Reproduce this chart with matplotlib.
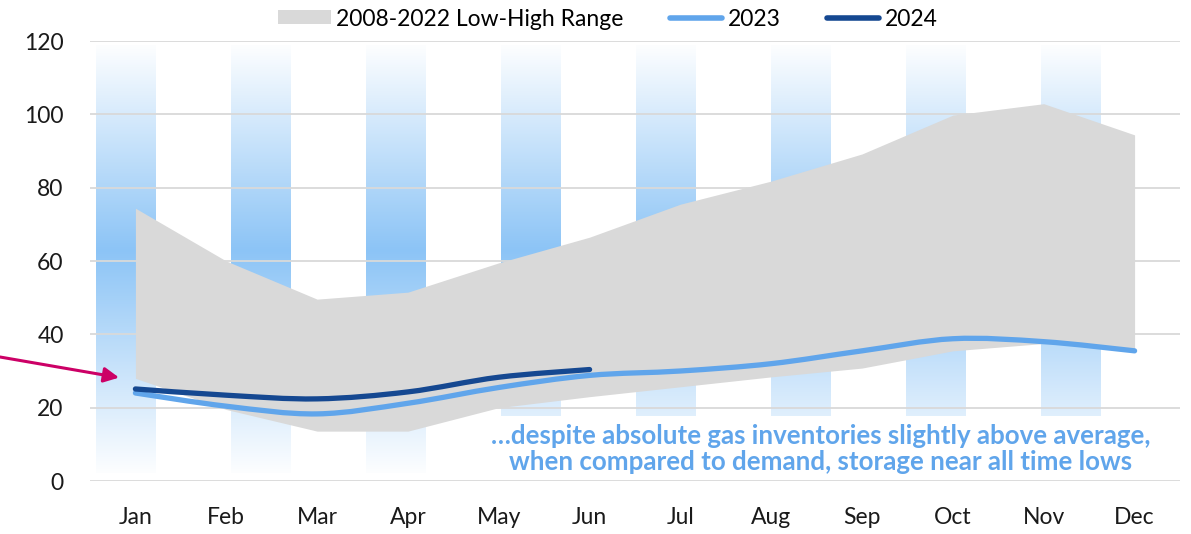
import matplotlib.pyplot as plt
import numpy as np
from matplotlib.path import Path
from matplotlib.patches import PathPatch, Patch, Rectangle
from matplotlib.lines import Line2D

plt.rcParams['font.family'] = ['Lato', 'DejaVu Sans']

months = ['Jan', 'Feb', 'Mar', 'Apr', 'May', 'Jun', 'Jul', 'Aug', 'Sep', 'Oct', 'Nov', 'Dec']
range_high = [74.4, 60, 49.6, 51.5, 59.5, 66.5, 75.5, 81.8, 89.2, 99.8, 102.9, 94.4]
range_low = [28, 19.5, 13.6, 13.6, 20, 23, 25.7, 28.4, 30.8, 35.5, 37.5, 36]
y2023 = [24, 20.4, 18.3, 21.2, 25.5, 28.8, 30.0, 32.0, 35.5, 38.8, 38.0, 35.5]
y2024 = [25.1, 23.4, 22.4, 24.3, 28.3, 30.4]

c_range = '#D9D9D9'
c_2023 = '#60A5EB'
c_2024 = '#154891'
c_arrow = '#CC0066'
fs = 16.5


def smooth_path(xs, ys):
    # catmull-rom turned into cubic bezier segments, like excel's smoothed line
    pts = np.column_stack([xs, ys]).astype(float)
    verts = [pts[0]]
    codes = [Path.MOVETO]
    n = len(pts)
    for i in range(n - 1):
        p0 = pts[i - 1] if i > 0 else pts[i]
        p1 = pts[i]
        p2 = pts[i + 1]
        p3 = pts[i + 2] if i + 2 < n else pts[i + 1]
        verts += [p1 + (p2 - p0) / 6, p2 - (p3 - p1) / 6, p2]
        codes += [Path.CURVE4] * 3
    return Path(verts, codes)


fig = plt.figure(figsize=(11.91, 5.34), dpi=100)
ax = fig.add_axes([90 / 1191, 1 - 481 / 534, 1090 / 1191, 440 / 534])

x = np.arange(len(months))
ax.set_xlim(-0.5, 11.5)
ax.set_ylim(0, 120)

# decorative gradient columns in the background
yy = np.linspace(0, 1, 200)
weight = np.interp(yy, [0, 0.52, 1], [0.02, 1, 0.02])
peak = np.array([140, 196, 246]) / 255
grad = 1 - weight[:, None] * (1 - peak)
grad = grad[:, None, :]
for i in range(8):
    left = -0.5 + 12 * (6 + 135 * i) / 1090
    ax.imshow(grad, extent=[left, left + 12 * 60 / 1090, 2.2, 118.9],
              origin='lower', aspect='auto', interpolation='bilinear', zorder=0.2)

ax.add_patch(Rectangle((3.79, 0.6), 7.55, 17.0, facecolor='white',
                       edgecolor='none', zorder=0.3))

ax.set_axisbelow(True)
ax.grid(axis='y', color='#D9D9D9', linewidth=1.3)
ax.set_yticks(range(0, 121, 20))
ax.set_xticks(x)
ax.set_xticklabels(months)
ax.tick_params(length=0, labelsize=fs, labelcolor='#1a1a1a')
ax.tick_params(axis='y', pad=19)
ax.tick_params(axis='x', pad=19)
for s in ax.spines.values():
    s.set_visible(False)

ax.fill_between(x, range_low, range_high, color=c_range, linewidth=0, zorder=2)
ax.add_patch(PathPatch(smooth_path(x, y2023), facecolor='none', edgecolor=c_2023,
                       linewidth=3.8, capstyle='round', zorder=3))
ax.add_patch(PathPatch(smooth_path(x[:len(y2024)], y2024), facecolor='none',
                       edgecolor=c_2024, linewidth=3.8, capstyle='round', zorder=4))

ax.text(7.54, 8.8, '…despite absolute gas inventories slightly above average,\n'
        'when compared to demand, storage near all time lows',
        ha='center', va='center', fontsize=18.6, fontweight='bold',
        color=c_2023, linespacing=1.1, zorder=5)

ax.annotate('', xy=(-0.18, 28.2), xycoords='data',
            xytext=(0, 1 - 357 / 534), textcoords='figure fraction',
            arrowprops=dict(arrowstyle='-|>,head_length=0.9,head_width=0.45',
                            color=c_arrow, lw=2.2, shrinkA=0, shrinkB=0),
            annotation_clip=False, zorder=6)

handles = [Patch(facecolor=c_range, edgecolor='none'),
           Line2D([], [], color=c_2023, lw=4, solid_capstyle='round'),
           Line2D([], [], color=c_2024, lw=4, solid_capstyle='round')]
fig.legend(handles, ['2008-2022 Low-High Range', '2023', '2024'],
           loc='center', bbox_to_anchor=(608 / 1191, 1 - 19 / 534), ncol=3,
           frameon=False, fontsize=fs, handlelength=2.3, handleheight=0.55,
           handletextpad=0.25, columnspacing=2.0, borderaxespad=0)

plt.savefig('out.png', dpi=100)
